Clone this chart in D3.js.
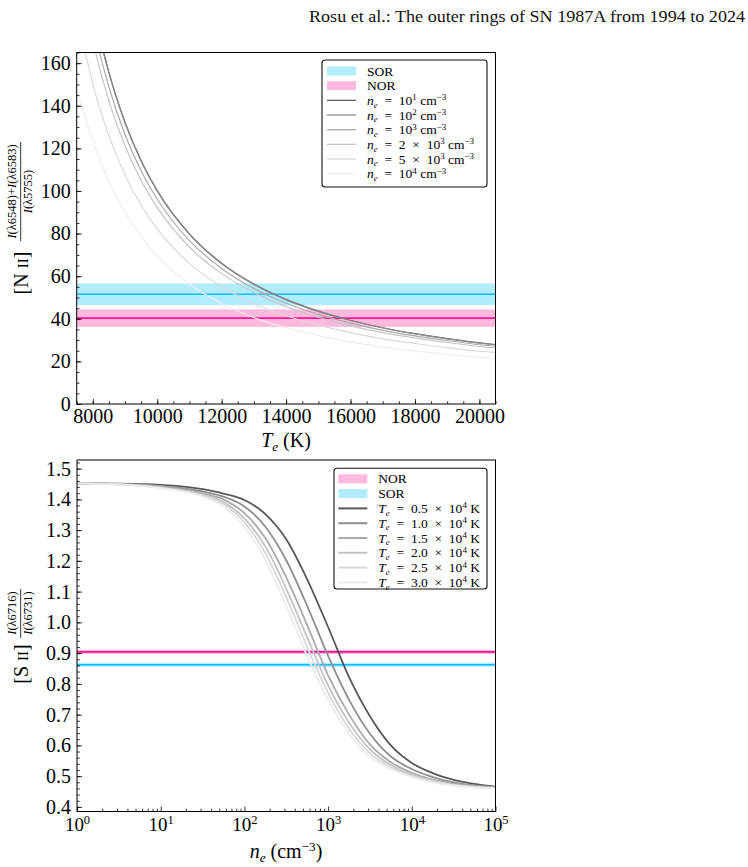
<!DOCTYPE html>
<html>
<head>
<meta charset="utf-8">
<script src="https://cdn.jsdelivr.net/npm/d3@7"></script>
<style>
    body { margin: 0; background: #fff; }
    svg { display: block; font-family: "Liberation Serif", "Times New Roman", serif; }
    text { white-space: pre; }
</style>
</head>
<body>
<div id="chart"></div>
<script>

// ---- top panel: [N II] ratio vs T_e, one curve per density ----
var teGrid = [7500, 8000, 8500, 9000, 9500, 10000, 11000, 12000, 13000, 14000, 15000, 16000, 17000, 18000, 19000, 20000, 20500];
var niiNe1e1 = [230.6, 187.2, 155.8, 132.3, 114.3, 100.2, 79.9, 66.1, 56.3, 49.1, 43.6, 39.3, 35.8, 33.0, 30.7, 28.7, 27.9];
var niiNe1e2 = [229.5, 186.4, 155.2, 131.8, 113.9, 99.9, 79.6, 65.8, 56.1, 48.9, 43.4, 39.2, 35.7, 32.9, 30.6, 28.6, 27.8];
var niiNe1e3 = [219.5, 178.5, 148.8, 126.5, 109.5, 96.1, 76.7, 63.6, 54.2, 47.3, 42.1, 38.0, 34.6, 32.0, 29.8, 27.8, 27.1];
var niiNe2e3 = [209.4, 170.5, 142.3, 121.2, 104.9, 92.2, 73.7, 61.2, 52.3, 45.7, 40.7, 36.7, 33.5, 31.0, 28.9, 27.0, 26.3];
var niiNe5e3 = [184.0, 150.3, 125.9, 107.5, 93.3, 82.2, 66.0, 55.0, 47.2, 41.4, 37.0, 33.5, 30.6, 28.4, 26.5, 24.8, 24.2];
var niiNe1e4 = [147.0, 123.5, 104.5, 90.0, 78.6, 69.6, 56.3, 47.2, 40.6, 35.8, 32.1, 29.2, 26.8, 24.9, 23.3, 21.9, 21.3];
var niiSeries = [niiNe1e1, niiNe1e2, niiNe1e3, niiNe2e3, niiNe5e3, niiNe1e4];
var niiLegendPre = ["", "", "", "2\u2002×\u2002", "5\u2002×\u2002", ""];
var niiLegendExp = ["1", "2", "3", "3", "3", "4"];

// observed ratios (centre, low, high)
var niiSor = [51.5, 46.4, 56.6];
var niiNor = [40.3, 36.2, 44.4];

var teTicks = [8000, 10000, 12000, 14000, 16000, 18000, 20000];
var niiTicks = [0, 20, 40, 60, 80, 100, 120, 140, 160];

// ---- bottom panel: [S II] ratio vs n_e, one curve per temperature ----
var neGrid = [1, 3.16, 10, 31.6, 56.2, 100, 178, 316, 562, 1000, 1780, 3160, 5620, 10000, 17800, 31600, 100000];
var siiTe05 = [1.452, 1.451, 1.447, 1.433, 1.419, 1.398, 1.352, 1.270, 1.140, 0.985, 0.822, 0.695, 0.600, 0.543, 0.510, 0.488, 0.466];
var siiTe10 = [1.452, 1.450, 1.444, 1.426, 1.409, 1.377, 1.311, 1.202, 1.054, 0.891, 0.748, 0.638, 0.564, 0.523, 0.497, 0.480, 0.464];
var siiTe15 = [1.452, 1.449, 1.441, 1.420, 1.400, 1.355, 1.274, 1.146, 0.991, 0.828, 0.700, 0.603, 0.545, 0.511, 0.489, 0.475, 0.463];
var siiTe20 = [1.452, 1.449, 1.439, 1.416, 1.391, 1.338, 1.247, 1.110, 0.951, 0.795, 0.674, 0.587, 0.536, 0.505, 0.485, 0.472, 0.462];
var siiTe25 = [1.452, 1.449, 1.438, 1.412, 1.385, 1.326, 1.225, 1.082, 0.920, 0.771, 0.655, 0.575, 0.529, 0.501, 0.483, 0.471, 0.461];
var siiTe30 = [1.452, 1.449, 1.437, 1.409, 1.377, 1.311, 1.202, 1.054, 0.891, 0.748, 0.638, 0.564, 0.523, 0.497, 0.480, 0.470, 0.460];
var siiSeries = [siiTe05, siiTe10, siiTe15, siiTe20, siiTe25, siiTe30];
var siiLegendTe = ["0.5", "1.0", "1.5", "2.0", "2.5", "3.0"];

var siiNor = [0.904, 0.897, 0.911];
var siiSor = [0.862, 0.855, 0.869];

var siiTicks = [0.4, 0.5, 0.6, 0.7, 0.8, 0.9, 1.0, 1.1, 1.2, 1.3, 1.4, 1.5];
var neTicks = [1, 10, 100, 1000, 10000, 100000];


var W = 748, H = 867;
var SKY = "#00bfff", PINK = "#ff1493";
var niiColors = ["#606060", "#8e8e8e", "#ababab", "#c5c5c5", "#dadada", "#eeeeee"];
var siiColors = ["#585858", "#8e8e8e", "#aaaaaa", "#c3c3c3", "#d8d8d8", "#ececec"];

var svg = d3.select("#chart").append("svg")
    .attr("width", W)
    .attr("height", H);

// page header
svg.append("text")
    .attr("x", 745)
    .attr("y", 22)
    .attr("text-anchor", "end")
    .attr("font-size", "16px")
    .attr("textLength", 436)
    .attr("lengthAdjust", "spacingAndGlyphs")
    .attr("fill", "#111")
    .text("Rosu et al.: The outer rings of SN 1987A from 1994 to 2024");

// append tspans for a small piece of math: italic letters, sub and superscripts
function mathText(sel, parts, fs) {
    var cur = 0;
    parts.forEach(function(p) {
        var shift = p.s === "sub" ? 0.2 * fs : p.s === "sup" ? -0.34 * fs : 0;
        sel.append("tspan")
            .attr("dy", shift - cur)
            .attr("font-size", (p.s ? fs * 0.66 : (p.sc ? fs * 0.75 : fs)) + "px")
            .attr("font-style", p.i ? "italic" : null)
            .text(p.t);
        cur = shift;
    });
    return sel;
}

// inward ticks, no domain line
function styleAxis(g) {
    g.select(".domain").remove();
    g.selectAll(".tick line").attr("stroke", "#000").attr("stroke-width", 0.8);
    g.selectAll(".tick text").attr("fill", "#000").attr("font-family", "Liberation Serif");
}

// a shaded band with its centre line
function drawBand(g, x, y, band, color) {
    g.append("rect")
        .attr("x", x.range()[0])
        .attr("width", x.range()[1] - x.range()[0])
        .attr("y", y(band[2]))
        .attr("height", y(band[1]) - y(band[2]))
        .attr("fill", color)
        .attr("fill-opacity", 0.3);
    g.append("line")
        .attr("x1", x.range()[0]).attr("x2", x.range()[1])
        .attr("y1", y(band[0])).attr("y2", y(band[0]))
        .attr("stroke", color)
        .attr("stroke-width", 1.6);
}

function drawLegend(box, rows) {
    var g = svg.append("g");
    g.append("rect")
        .attr("x", box.x).attr("y", box.y)
        .attr("width", box.w).attr("height", box.h)
        .attr("rx", 3)
        .attr("fill", "#fff")
        .attr("stroke", "#111")
        .attr("stroke-width", 1.1);
    rows.forEach(function(r, i) {
        var cy = box.row0 + i * box.step;
        if (r.patch) {
            g.append("rect")
                .attr("x", box.sx).attr("y", cy - 4.5)
                .attr("width", 29).attr("height", 9)
                .attr("fill", r.patch).attr("fill-opacity", 0.3);
        } else {
            g.append("line")
                .attr("x1", box.sx).attr("x2", box.sx + 29)
                .attr("y1", cy).attr("y2", cy)
                .attr("stroke", r.line)
                .attr("stroke-width", box.lw);
        }
        var t = g.append("text")
            .attr("x", box.tx)
            .attr("y", cy + 4.5)
            .attr("font-size", "13.5px")
            .attr("fill", "#000");
        mathText(t, r.parts, 13.5);
    });
}


// ================= top panel =================
var topX = d3.scaleLinear().domain([7500, 20500]).range([76.7, 495.5]);
var topY = d3.scaleLinear().domain([0, 165]).range([404, 52.5]);

var topPanel = svg.append("g");
topPanel.append("clipPath").attr("id", "clipTop")
    .append("rect")
    .attr("x", 76.7).attr("y", 52.5)
    .attr("width", 495.5 - 76.7).attr("height", 404 - 52.5);

var topPlot = topPanel.append("g").attr("clip-path", "url(#clipTop)");
drawBand(topPlot, topX, topY, niiSor, SKY);
drawBand(topPlot, topX, topY, niiNor, PINK);

var topLine = d3.line()
    .x(function(d) { return topX(d[0]); })
    .y(function(d) { return topY(d[1]); })
    .curve(d3.curveMonotoneX);

niiSeries.forEach(function(vals, i) {
    topPlot.append("path")
        .datum(teGrid.map(function(t, j) { return [t, vals[j]]; }))
        .attr("fill", "none")
        .attr("stroke", niiColors[i])
        .attr("stroke-width", 1.2)
        .attr("d", topLine);
});

// axes
topPanel.append("g")
    .attr("transform", "translate(0,404)")
    .call(d3.axisBottom(topX).tickValues(d3.range(7500, 20501, 500)).tickSize(-2.8).tickFormat(""))
    .call(styleAxis);
topPanel.append("g")
    .attr("transform", "translate(0,404)")
    .call(d3.axisBottom(topX).tickValues(teTicks).tickSize(-5).tickPadding(5).tickFormat(d3.format("d")))
    .call(styleAxis)
    .selectAll("text").attr("font-size", "20px");
topPanel.append("g")
    .attr("transform", "translate(76.7,0)")
    .call(d3.axisLeft(topY).tickValues(d3.range(0, 166, 5)).tickSize(-2.8).tickFormat(""))
    .call(styleAxis);
topPanel.append("g")
    .attr("transform", "translate(76.7,0)")
    .call(d3.axisLeft(topY).tickValues(niiTicks).tickSize(-5).tickPadding(6))
    .call(styleAxis)
    .selectAll("text").attr("font-size", "20px");

topPanel.append("rect")
    .attr("x", 76.7).attr("y", 52.5)
    .attr("width", 495.5 - 76.7).attr("height", 404 - 52.5)
    .attr("fill", "none").attr("stroke", "#000").attr("stroke-width", 1);

// axis labels
mathText(topPanel.append("text")
    .attr("x", 286).attr("y", 447)
    .attr("text-anchor", "middle"),
    [{t: "T", i: 1}, {t: "e", i: 1, s: "sub"}, {t: " (K)"}], 20);

mathText(topPanel.append("text")
    .attr("transform", "translate(28,273) rotate(-90)")
    .attr("text-anchor", "middle"),
    [{t: "[N "}, {t: "II", sc: 1}, {t: "]"}], 20);
mathText(topPanel.append("text")
    .attr("transform", "translate(16,191.5) rotate(-90)")
    .attr("text-anchor", "middle"),
    [{t: "I", i: 1}, {t: "(λ6548)+"}, {t: "I", i: 1}, {t: "(λ6583)"}], 12.5);
topPanel.append("line")
    .attr("x1", 20.7).attr("x2", 20.7)
    .attr("y1", 142).attr("y2", 241)
    .attr("stroke", "#000").attr("stroke-width", 0.8);
mathText(topPanel.append("text")
    .attr("transform", "translate(32,191.5) rotate(-90)")
    .attr("text-anchor", "middle"),
    [{t: "I", i: 1}, {t: "(λ5755)"}], 12.5);

drawLegend({x: 322, y: 60, w: 165, h: 127, row0: 71, step: 14.67, sx: 327, tx: 367, lw: 1.3},
    [{patch: SKY, parts: [{t: "SOR"}]},
     {patch: PINK, parts: [{t: "NOR"}]}].concat(niiSeries.map(function(s, i) {
        return {line: niiColors[i], parts: [{t: "n", i: 1}, {t: "e", i: 1, s: "sub"},
            {t: "\u2002=\u2002" + niiLegendPre[i] + "10"}, {t: niiLegendExp[i], s: "sup"},
            {t: " cm"}, {t: "−3", s: "sup"}]};
    })));


// ================= bottom panel =================
var botX = d3.scaleLog().domain([1, 1e5]).range([77, 495.5]);
var botY = d3.scaleLinear().domain([0.385, 1.528]).range([811.5, 460]);

var botPanel = svg.append("g");
var botPlot = botPanel.append("g");
drawBand(botPlot, botX, botY, siiNor, PINK);
drawBand(botPlot, botX, botY, siiSor, SKY);

var botLine = d3.line()
    .x(function(d) { return botX(d[0]); })
    .y(function(d) { return botY(d[1]); })
    .curve(d3.curveMonotoneX);

siiSeries.forEach(function(vals, i) {
    botPlot.append("path")
        .datum(neGrid.map(function(n, j) { return [n, vals[j]]; }))
        .attr("fill", "none")
        .attr("stroke", siiColors[i])
        .attr("stroke-width", 1.8)
        .attr("d", botLine);
});

// log minor ticks 2..9 per decade
var neMinor = [];
neTicks.slice(0, -1).forEach(function(d) {
    d3.range(2, 10).forEach(function(k) { neMinor.push(d * k); });
});
botPanel.append("g")
    .attr("transform", "translate(0,811.5)")
    .call(d3.axisBottom(botX).tickValues(neMinor).tickSize(-2.8).tickFormat(""))
    .call(styleAxis);
var neAxis = botPanel.append("g")
    .attr("transform", "translate(0,811.5)")
    .call(d3.axisBottom(botX).tickValues(neTicks).tickSize(-5).tickPadding(5).tickFormat(""))
    .call(styleAxis);
// 10^k labels: explicit baseline since the tspans override the axis dy
neAxis.selectAll(".tick text").each(function(d) {
    var t = d3.select(this)
        .attr("dy", null)
        .attr("y", 19)
        .attr("font-size", "19px");
    mathText(t, [{t: "10"}, {t: String(Math.round(Math.log10(d))), s: "sup"}], 19);
});
botPanel.append("g")
    .attr("transform", "translate(77,0)")
    .call(d3.axisLeft(botY).tickValues(d3.range(0.4, 1.521, 0.02)).tickSize(-2.8).tickFormat(""))
    .call(styleAxis);
botPanel.append("g")
    .attr("transform", "translate(77,0)")
    .call(d3.axisLeft(botY).tickValues(siiTicks).tickSize(-5).tickPadding(6).tickFormat(d3.format(".1f")))
    .call(styleAxis)
    .selectAll("text").attr("font-size", "20px");

botPanel.append("rect")
    .attr("x", 77).attr("y", 460)
    .attr("width", 495.5 - 77).attr("height", 811.5 - 460)
    .attr("fill", "none").attr("stroke", "#000").attr("stroke-width", 1);

mathText(botPanel.append("text")
    .attr("x", 286).attr("y", 858)
    .attr("text-anchor", "middle"),
    [{t: "n", i: 1}, {t: "e", i: 1, s: "sub"}, {t: " (cm"}, {t: "−3", s: "sup"}, {t: ")"}], 20);

mathText(botPanel.append("text")
    .attr("transform", "translate(28,664) rotate(-90)")
    .attr("text-anchor", "middle"),
    [{t: "[S "}, {t: "II", sc: 1}, {t: "]"}], 20);
mathText(botPanel.append("text")
    .attr("transform", "translate(16,613) rotate(-90)")
    .attr("text-anchor", "middle"),
    [{t: "I", i: 1}, {t: "(λ6716)"}], 12.5);
botPanel.append("line")
    .attr("x1", 20.7).attr("x2", 20.7)
    .attr("y1", 589).attr("y2", 638)
    .attr("stroke", "#000").attr("stroke-width", 0.8);
mathText(botPanel.append("text")
    .attr("transform", "translate(32,613) rotate(-90)")
    .attr("text-anchor", "middle"),
    [{t: "I", i: 1}, {t: "(λ6731)"}], 12.5);

drawLegend({x: 334, y: 468.3, w: 153, h: 120.7, row0: 478.8, step: 14.8, sx: 338.3, tx: 378.3, lw: 2},
    [{patch: PINK, parts: [{t: "NOR"}]},
     {patch: SKY, parts: [{t: "SOR"}]}].concat(siiSeries.map(function(s, i) {
        return {line: siiColors[i], parts: [{t: "T", i: 1}, {t: "e", i: 1, s: "sub"},
            {t: "\u2002=\u2002" + siiLegendTe[i] + "\u2002×\u200210"}, {t: "4", s: "sup"}, {t: " K"}]};
    })));

</script>
</body>
</html>
